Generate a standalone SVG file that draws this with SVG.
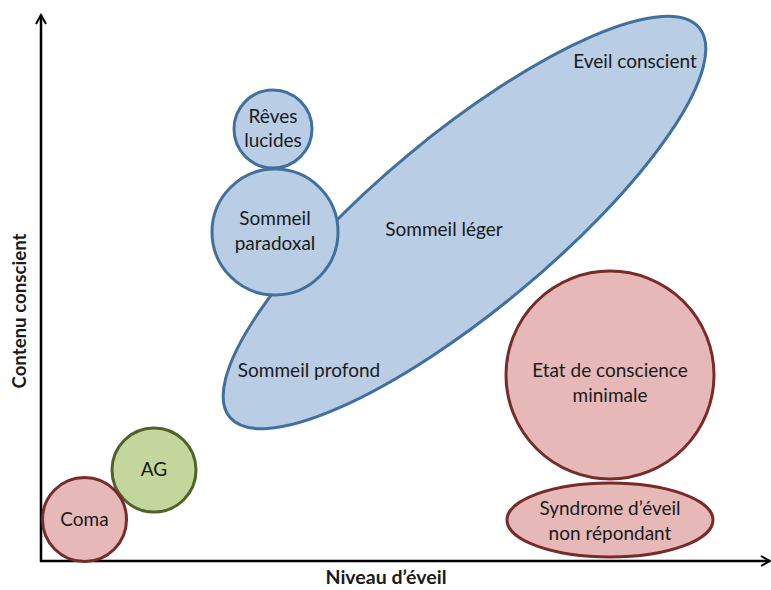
<svg xmlns="http://www.w3.org/2000/svg" width="771" height="590" viewBox="0 0 771 590">
<defs>
<style>
.blue{fill:#B9CDE5;stroke:#41709E;stroke-width:3}
.pink{fill:#E6B9B8;stroke:#772C2A;stroke-width:3}
.green{fill:#C3D69B;stroke:#4F6228;stroke-width:3}
text{font-family:Lato,"Open Sans",sans-serif;font-size:19px;fill:#1a1a1a;text-anchor:middle}
.axis{stroke:#000;stroke-width:2.5;fill:none}
.lbl{font-weight:bold;font-size:18px}
</style>
<marker id="arr" viewBox="0 0 12 12" refX="10" refY="6" markerWidth="12" markerHeight="12" markerUnits="userSpaceOnUse" orient="auto">
<path d="M1,1 L10,6 L1,11" fill="none" stroke="#000" stroke-width="2"/>
</marker>
</defs>
<g id="axes">
<line class="axis" x1="41" y1="562" x2="41" y2="15" marker-end="url(#arr)"/>
<line class="axis" x1="40" y1="561" x2="770" y2="561" marker-end="url(#arr)"/>
<text class="lbl" x="386" y="584" textLength="121" lengthAdjust="spacingAndGlyphs">Niveau d’éveil</text>
<text class="lbl" transform="translate(26 311) rotate(-90)" textLength="155" lengthAdjust="spacingAndGlyphs">Contenu conscient</text>
</g>
<g id="eveil">
<ellipse class="blue" cx="464.5" cy="222.5" rx="305" ry="88" transform="rotate(-39.7 464.5 222.5)"/>
<text x="635" y="68">Eveil conscient</text>
<text x="444" y="236">Sommeil léger</text>
<text x="309" y="377">Sommeil profond</text>
</g>
<g id="reves">
<circle class="blue" cx="273" cy="129" r="39"/>
<text x="273" y="123">Rêves</text>
<text x="273" y="147">lucides</text>
</g>
<g id="paradoxal">
<circle class="blue" cx="275" cy="232" r="63"/>
<text x="275" y="225">Sommeil</text>
<text x="275" y="250">paradoxal</text>
</g>
<g id="ecm">
<circle class="pink" cx="610" cy="375" r="104"/>
<text x="610" y="377">Etat de conscience</text>
<text x="610" y="402">minimale</text>
</g>
<g id="seor">
<ellipse class="pink" cx="610" cy="520" rx="103" ry="37"/>
<text x="610" y="515">Syndrome d’éveil</text>
<text x="610" y="540">non répondant</text>
</g>
<g id="ag">
<circle class="green" cx="154" cy="470" r="42"/>
<text x="154" y="476">AG</text>
</g>
<g id="coma">
<circle class="pink" cx="84.5" cy="519.5" r="42"/>
<text x="84.5" y="526">Coma</text>
</g>
<g id="connectors"/>
</svg>
